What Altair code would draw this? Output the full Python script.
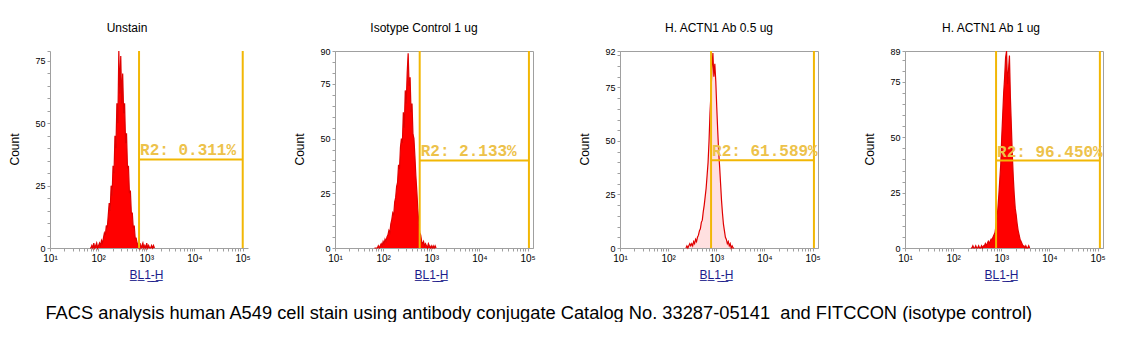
import altair as alt
import pandas as pd

# ---------------- data ----------------
panel_titles = ["Unstain", "Isotype Control 1 ug", "H. ACTN1 Ab 0.5 ug", "H. ACTN1 Ab 1 ug"]
y_max = [79, 90, 92, 89]
y_label_values = [[0, 25, 50, 75], [0, 25, 50, 75, 90], [0, 25, 50, 75, 92], [0, 25, 50, 75, 89]]
x_domain = [10, 130000]
gate_left = [708, 575, 780, 780]
gate_right = [101000, 107000, 107000, 112000]
gate_level = [35.5, 40, 41, 39.5]
gate_labels = ["R2: 0.311%", "R2: 2.133%", "R2: 61.589%", "R2: 96.450%"]

# histogram channels: log10 of the first channel and channel width (decades)
bin_start = [1.83, 1.82, 2.37, 2.37]
bin_step = 0.02

counts_unstain = [0, 0, 1, 0, 2, 0, 1, 2, 0, 1,
                  2, 1, 3, 2, 4, 6, 5, 9, 8, 13,
                  18, 15, 25, 21, 33, 30, 45, 40, 58, 50,
                  79, 62, 77, 58, 70, 54, 58, 42, 46, 32,
                  33, 22, 23, 14, 14, 8, 9, 4, 4, 2,
                  1, 0, 2, 0, 1, 2, 0, 1, 0, 2,
                  0, 1, 0, 0, 1, 0, 1, 0]
counts_isotype = [0, 0, 0, 0, 1, 0, 1, 2, 1, 3,
                  2, 4, 3, 5, 6, 8, 7, 11, 13, 16,
                  15, 21, 23, 28, 30, 38, 36, 46, 50, 48,
                  62, 55, 72, 66, 80, 89, 74, 78, 62, 66,
                  52, 50, 42, 33, 26, 18, 12, 7, 6, 3,
                  2, 3, 1, 2, 1, 0, 2, 1, 0, 1,
                  0, 1, 0, 1, 0]
counts_ab_05 = [0, 1, 0, 1, 2, 1, 2, 1, 3, 2,
                4, 3, 5, 6, 8, 9, 12, 13, 17, 20,
                24, 28, 34, 40, 50, 63, 72, 84, 91, 80,
                86, 78, 66, 55, 45, 38, 30, 22, 16, 11,
                8, 5, 4, 2, 3, 1, 2, 0, 1, 0, 0]
counts_ab_1 = [0, 0, 1, 0, 0, 1, 0, 0, 1, 0,
               0, 1, 0, 1, 1, 2, 1, 2, 3, 2,
               3, 4, 4, 5, 6, 7, 10, 13, 18, 24,
               31, 38, 50, 60, 70, 77, 86, 89, 74, 80,
               87, 68, 55, 42, 32, 24, 18, 15, 11, 8,
               6, 4, 3, 2, 1, 1, 0, 1, 0, 0, 1, 0]
all_counts = [counts_unstain, counts_isotype, counts_ab_05, counts_ab_1]
fill_opacity = [1.0, 1.0, 0.12, 1.0]

x_tick_values = [10, 20, 30, 40, 50, 60, 70, 80, 90,
                 100, 200, 300, 400, 500, 600, 700, 800, 900,
                 1000, 2000, 3000, 4000, 5000, 6000, 7000, 8000, 9000,
                 10000, 20000, 30000, 40000, 50000, 60000, 70000, 80000, 90000,
                 100000]
x_label_expr = ("datum.value == 10 ? '10¹' : datum.value == 100 ? '10²' : "
                "datum.value == 1000 ? '10³' : datum.value == 10000 ? '10⁴' : "
                "datum.value == 100000 ? '10⁵' : ''")

caption = ("FACS analysis human A549 cell stain using antibody conjugate "
           "Catalog No. 33287-05141\u00a0 and FITCCON (isotype control)")

title_dx = [-22, -10, 0, -13]
title_offset = [12, 12, 12, 12]

GOLD = "#F2B705"
GOLD_TEXT = "#EDC24A"
AXIS_GREY = "#A0A0A0"
FONT = "Liberation Sans"


def make_panel(i):
    counts = all_counts[i]
    df = pd.DataFrame({
        "fl": [10 ** (bin_start[i] + k * bin_step) for k in range(len(counts))],
        "count": counts,
    })
    xs = alt.Scale(type="log", domain=x_domain, nice=False)
    ys = alt.Scale(domain=[0, y_max[i]], nice=False, zero=True)
    y_vals = list(range(0, y_max[i] + 1, 5))
    if y_max[i] not in y_vals:
        y_vals.append(y_max[i])
    y_label_expr = " : ".join(
        "datum.value == %d ? '%d'" % (v, v) for v in y_label_values[i]) + " : ''"
    xaxis = alt.Axis(values=x_tick_values, labelExpr=x_label_expr, title="B̲L̲1̲-̲H̲",
                     labelOverlap=False, labelFlush=False, grid=False,
                     domainColor=AXIS_GREY, tickColor=AXIS_GREY, tickSize=3,
                     labelFontSize=10, labelFont=FONT, labelColor="#000000", labelPadding=2,
                     titleFont=FONT, titleFontSize=12, titleFontWeight="normal",
                     titleColor="#1C1C8C", titleX=96, titleY=26, titleBaseline="middle")
    yaxis = alt.Axis(values=y_vals, labelExpr=y_label_expr, title="Count",
                     labelOverlap=False, labelFlush=False, grid=False, tickCount=len(y_vals),
                     domainColor=AXIS_GREY, tickColor=AXIS_GREY, tickSize=3,
                     labelFontSize=9, labelFont=FONT, labelColor="#000000", labelPadding=2,
                     titleFont=FONT, titleFontSize=12, titleFontWeight="normal",
                     titleColor="#000000", titleX=-36, titleY=98, titleAngle=270,
                     titleAlign="center", titleBaseline="middle")
    X = lambda f: alt.X(f, scale=xs, axis=xaxis)
    Y = lambda f: alt.Y(f, scale=ys, axis=yaxis)
    area = alt.Chart(df).mark_area(color="#FF0000", interpolate="linear",
                                   opacity=fill_opacity[i]).encode(
        x=X("fl:Q"), y=Y("count:Q"))
    line = alt.Chart(df).mark_line(color="#E00000", strokeWidth=1.2).encode(
        x=X("fl:Q"), y=Y("count:Q"))
    gdf = pd.DataFrame({"l": [gate_left[i]], "r": [gate_right[i]], "lev": [gate_level[i]],
                        "top": [y_max[i]], "zero": [0], "label": [gate_labels[i]]})
    g = alt.Chart(gdf)
    vl = g.mark_rule(color=GOLD, strokeWidth=2).encode(
        x=X("l:Q"), y=Y("zero:Q"), y2="top:Q")
    vr = g.mark_rule(color=GOLD, strokeWidth=2).encode(
        x=X("r:Q"), y=Y("zero:Q"), y2="top:Q")
    hr = g.mark_rule(color=GOLD, strokeWidth=2).encode(
        x=X("l:Q"), x2="r:Q", y=Y("lev:Q"))
    txt = g.mark_text(align="left", baseline="alphabetic", dx=1, dy=-4,
                      font="Liberation Mono", fontSize=16, fontWeight="bold",
                      color=GOLD_TEXT).encode(
        x=X("l:Q"), y=Y("lev:Q"), text="label:N")
    props = dict(width=198, height=197,
                 title=alt.TitleParams(panel_titles[i], anchor="middle", dx=title_dx[i],
                                       offset=title_offset[i], fontSize=12, font=FONT,
                                       fontWeight="normal", color="#000000"))
    if i > 0:
        props["view"] = alt.ViewBackground(stroke=AXIS_GREY, strokeWidth=1)
    else:
        props["view"] = alt.ViewBackground(strokeWidth=0)
    return alt.layer(area, line, vl, vr, hr, txt).properties(**props)


chart = alt.hconcat(*[make_panel(i) for i in range(4)], spacing=87, bounds="flush").properties(
    title=alt.TitleParams(caption, orient="bottom", anchor="middle", fontSize=18.3, font=FONT,
                          fontWeight="normal", color="#000000", offset=24, dx=-18),
    padding={"left": 0, "top": 13, "right": 0, "bottom": 0},
).configure_view(stroke=None)

chart.save("out.html", embed_options={"renderer": "svg", "actions": False})
